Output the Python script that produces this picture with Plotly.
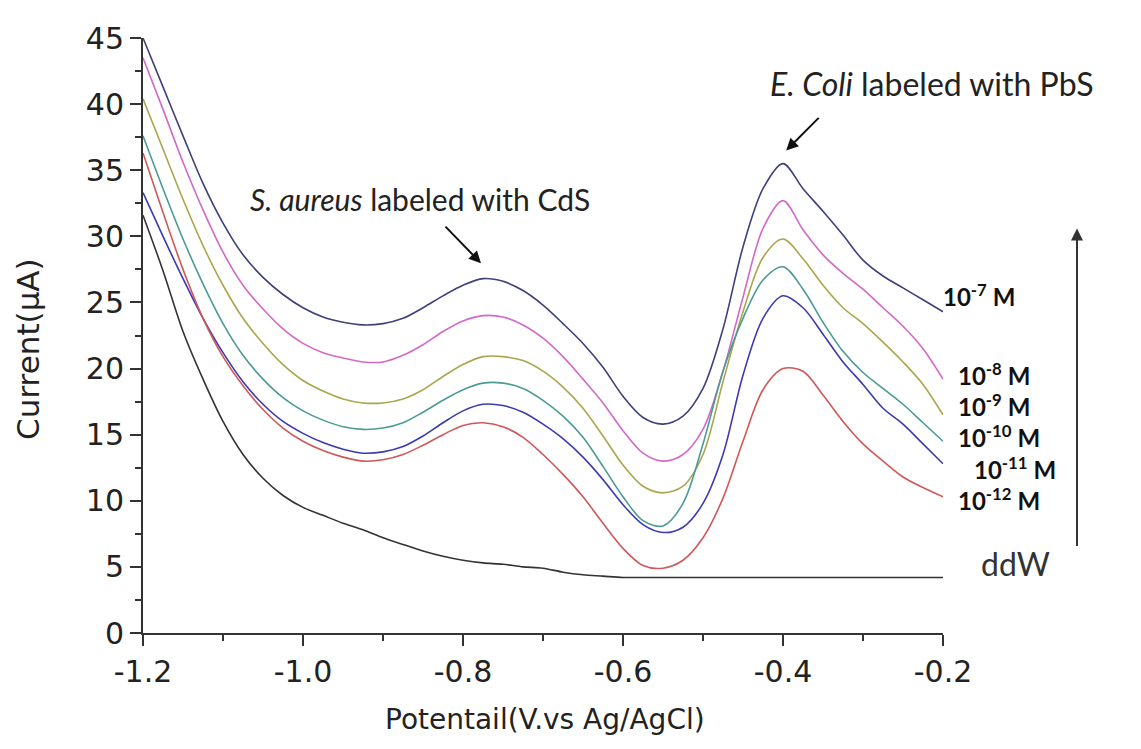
import plotly.graph_objects as go

# ---------------- data ----------------
potential = [-1.2, -1.175, -1.15, -1.125, -1.1, -1.075, -1.05, -1.025, -1.0, -0.975,
             -0.95, -0.925, -0.9, -0.875, -0.85, -0.825, -0.8, -0.775, -0.75, -0.725,
             -0.7, -0.675, -0.65, -0.625, -0.6, -0.575, -0.55, -0.525, -0.5, -0.475,
             -0.45, -0.425, -0.4, -0.375, -0.35, -0.325, -0.3, -0.275, -0.25, -0.225, -0.2]

i_1e7 = [45.0, 41.3, 37.6, 34.0, 31.0, 28.6, 26.9, 25.6, 24.6, 23.9,
         23.5, 23.3, 23.4, 23.8, 24.6, 25.5, 26.3, 26.8, 26.6, 25.9,
         24.8, 23.4, 21.9, 20.1, 17.9, 16.3, 15.8, 16.4, 18.5, 23.0,
         29.2, 33.6, 35.5, 33.6, 31.9, 30.1, 28.2, 27.0, 26.1, 25.2, 24.3]
i_1e8 = [43.5, 39.6, 35.6, 32.0, 28.8, 26.3, 24.5, 23.0, 21.9, 21.2,
         20.8, 20.5, 20.5, 21.0, 21.8, 22.8, 23.6, 24.0, 23.9, 23.3,
         22.3, 20.9, 19.2, 17.4, 15.3, 13.6, 13.0, 13.5, 15.4, 19.8,
         25.4, 30.6, 32.7, 30.5, 28.6, 27.2, 26.0, 24.6, 23.2, 21.5, 19.2]
i_1e9 = [40.4, 36.6, 32.8, 29.3, 26.3, 23.8, 21.9, 20.3, 19.1, 18.3,
         17.7, 17.4, 17.4, 17.7, 18.4, 19.4, 20.3, 20.9, 20.9, 20.6,
         19.8, 18.6, 17.0, 14.9, 12.7, 11.1, 10.6, 11.1, 13.5, 19.0,
         24.3, 28.4, 29.8, 28.3, 26.3, 24.6, 23.4, 22.0, 20.5, 18.8, 16.5]
i_1e10 = [37.6, 33.6, 29.8, 26.4, 23.4, 21.0, 19.2, 17.8, 16.8, 16.1,
          15.6, 15.4, 15.5, 15.9, 16.7, 17.6, 18.4, 18.9, 18.9, 18.5,
          17.6, 16.4, 14.8, 12.6, 10.3, 8.5, 8.1, 9.8, 14.3, 19.8,
          23.8, 26.7, 27.7, 26.0, 23.5, 21.3, 19.7, 18.5, 17.3, 15.9, 14.5]
i_1e11 = [33.3, 30.0, 26.8, 23.8, 21.2, 19.0, 17.3, 16.0, 15.1, 14.4,
          13.9, 13.6, 13.7, 14.1, 14.9, 15.9, 16.8, 17.3, 17.2, 16.7,
          15.8, 14.7, 13.3, 11.6, 9.7, 8.2, 7.6, 8.0, 9.8, 13.5,
          19.5, 23.8, 25.5, 24.6, 22.6, 20.5, 18.8, 17.0, 15.8, 14.3, 12.8]
i_1e12 = [36.3, 31.8, 27.5, 23.8, 20.9, 18.7, 16.9, 15.5, 14.5, 13.8,
          13.3, 13.0, 13.1, 13.5, 14.2, 15.0, 15.7, 15.9, 15.6, 14.8,
          13.5, 12.0, 10.3, 8.3, 6.4, 5.1, 4.9, 5.5, 7.2, 10.2,
          14.5, 18.4, 20.0, 19.8, 18.0, 16.0, 14.3, 13.0, 11.8, 11.0, 10.3]
i_ddw = [31.6, 27.4, 22.8, 19.2, 16.0, 13.5, 11.7, 10.4, 9.5, 8.9,
         8.3, 7.8, 7.2, 6.7, 6.2, 5.8, 5.5, 5.3, 5.2, 5.0,
         4.9, 4.6, 4.4, 4.3, 4.2, 4.2, 4.2, 4.2, 4.2, 4.2,
         4.2, 4.2, 4.2, 4.2, 4.2, 4.2, 4.2, 4.2, 4.2, 4.2, 4.2]

series_names = ["10<sup>-7</sup> M", "10<sup>-8</sup> M", "10<sup>-9</sup> M",
                "10<sup>-10</sup> M", "10<sup>-11</sup> M", "10<sup>-12</sup> M", "ddW"]
series_values = [i_1e7, i_1e8, i_1e9, i_1e10, i_1e11, i_1e12, i_ddw]

x_tickvals = [-1.2, -1.0, -0.8, -0.6, -0.4, -0.2]
x_ticktext = ["-1.2", "-1.0", "-0.8", "-0.6", "-0.4", "-0.2"]
y_tickvals = [0, 5, 10, 15, 20, 25, 30, 35, 40, 45]

# ---------------- styling ----------------
colors = ["#3f3f7c", "#d468c6", "#a9a64c", "#4b9a93", "#3a3ab2", "#d05858", "#333333"]
label_pos = [(0.99875, 0.5676), (1.0175, 0.4357), (1.0175, 0.384), (1.0175, 0.3306),
             (1.0375, 0.2771), (1.0175, 0.2254), (1.04625, 0.1169)]

fig = go.Figure()
for name, vals, col in zip(series_names, series_values, colors):
    fig.add_trace(go.Scatter(x=potential, y=vals, mode="lines", name=name,
                             line=dict(color=col, width=1.6, shape="spline", smoothing=0.9)))

axis_common = dict(showline=True, linecolor="#333333", linewidth=2, ticks="outside",
                   ticklen=11, tickwidth=2, tickcolor="#333333", showgrid=False,
                   zeroline=False, mirror=False,
                   tickfont=dict(family="DejaVu Sans, sans-serif", size=30, color="#222222"))

fig.update_xaxes(range=[-1.2, -0.2], tickvals=x_tickvals, ticktext=x_ticktext,
                 minor=dict(dtick=0.1, tick0=-1.2, ticks="outside", ticklen=6, tickwidth=2,
                            tickcolor="#333333", showgrid=False),
                 **axis_common)
fig.update_yaxes(range=[0, 45], tickvals=y_tickvals,
                 minor=dict(dtick=2.5, tick0=0, ticks="outside", ticklen=6, tickwidth=2,
                            tickcolor="#333333", showgrid=False),
                 **axis_common)

annotations = []
annotations.append(dict(text="Potentail(V.vs Ag/AgCl)", xref="paper", yref="paper",
                        x=0.5025, y=-0.145, xanchor="center", yanchor="middle",
                        showarrow=False,
                        font=dict(family="DejaVu Sans, sans-serif", size=28, color="#222222")))
annotations.append(dict(text="Current(\u03bcA)", xref="paper", yref="paper",
                        x=-0.14375, y=0.4775, xanchor="center", yanchor="middle",
                        textangle=-90, showarrow=False,
                        font=dict(family="DejaVu Sans, sans-serif", size=31, color="#222222")))

annotations.append(dict(text="<i>S. aureus</i> labeled with CdS", xref="paper", yref="paper",
                        x=0.13125, y=0.7296, xanchor="left", yanchor="middle", showarrow=False,
                        font=dict(family="Lato, Carlito, Calibri, sans-serif", size=30, color="#222222")))
annotations.append(dict(text="<i>E. Coli</i> labeled with PbS", xref="paper", yref="paper",
                        x=0.78125, y=0.923, xanchor="left", yanchor="middle", showarrow=False,
                        font=dict(family="Lato, Carlito, Calibri, sans-serif", size=32, color="#222222")))
# arrows
annotations.append(dict(text="", x=-0.7775, y=27.97, xref="x", yref="y", ax=-37, ay=-38,
                        showarrow=True, arrowhead=2, arrowsize=1.2, arrowwidth=2, arrowcolor="#111111"))
annotations.append(dict(text="", x=-0.396, y=36.5, xref="x", yref="y", ax=34, ay=-34,
                        showarrow=True, arrowhead=2, arrowsize=1.2, arrowwidth=2, arrowcolor="#111111"))
annotations.append(dict(text="", x=1.1675, y=0.68, xref="paper", yref="paper", ax=0, ay=319,
                        showarrow=True, arrowhead=2, arrowsize=1.2, arrowwidth=2, arrowcolor="#333333"))

for name, (px, py) in zip(series_names, label_pos):
    if name == "ddW":
        txt = name
        fnt = dict(family="Lato, Carlito, Calibri, sans-serif", size=32, color="#333333")
    else:
        txt = "<b>" + name + "</b>"
        fnt = dict(family="Lato, Carlito, Calibri, sans-serif", size=24, color="#111111")
    annotations.append(dict(text=txt, xref="paper", yref="paper", x=px, y=py,
                            xanchor="left", yanchor="middle", showarrow=False, font=fnt,
                            borderpad=0))

# the page body adds an 8px offset; the figure is sized so the plot area lands where the reference's does
fig.update_layout(width=1133, height=741, margin=dict(l=135, r=198, t=26, b=116),
                  plot_bgcolor="white", paper_bgcolor="white", showlegend=False,
                  annotations=annotations)

fig.write_html("out.html")
